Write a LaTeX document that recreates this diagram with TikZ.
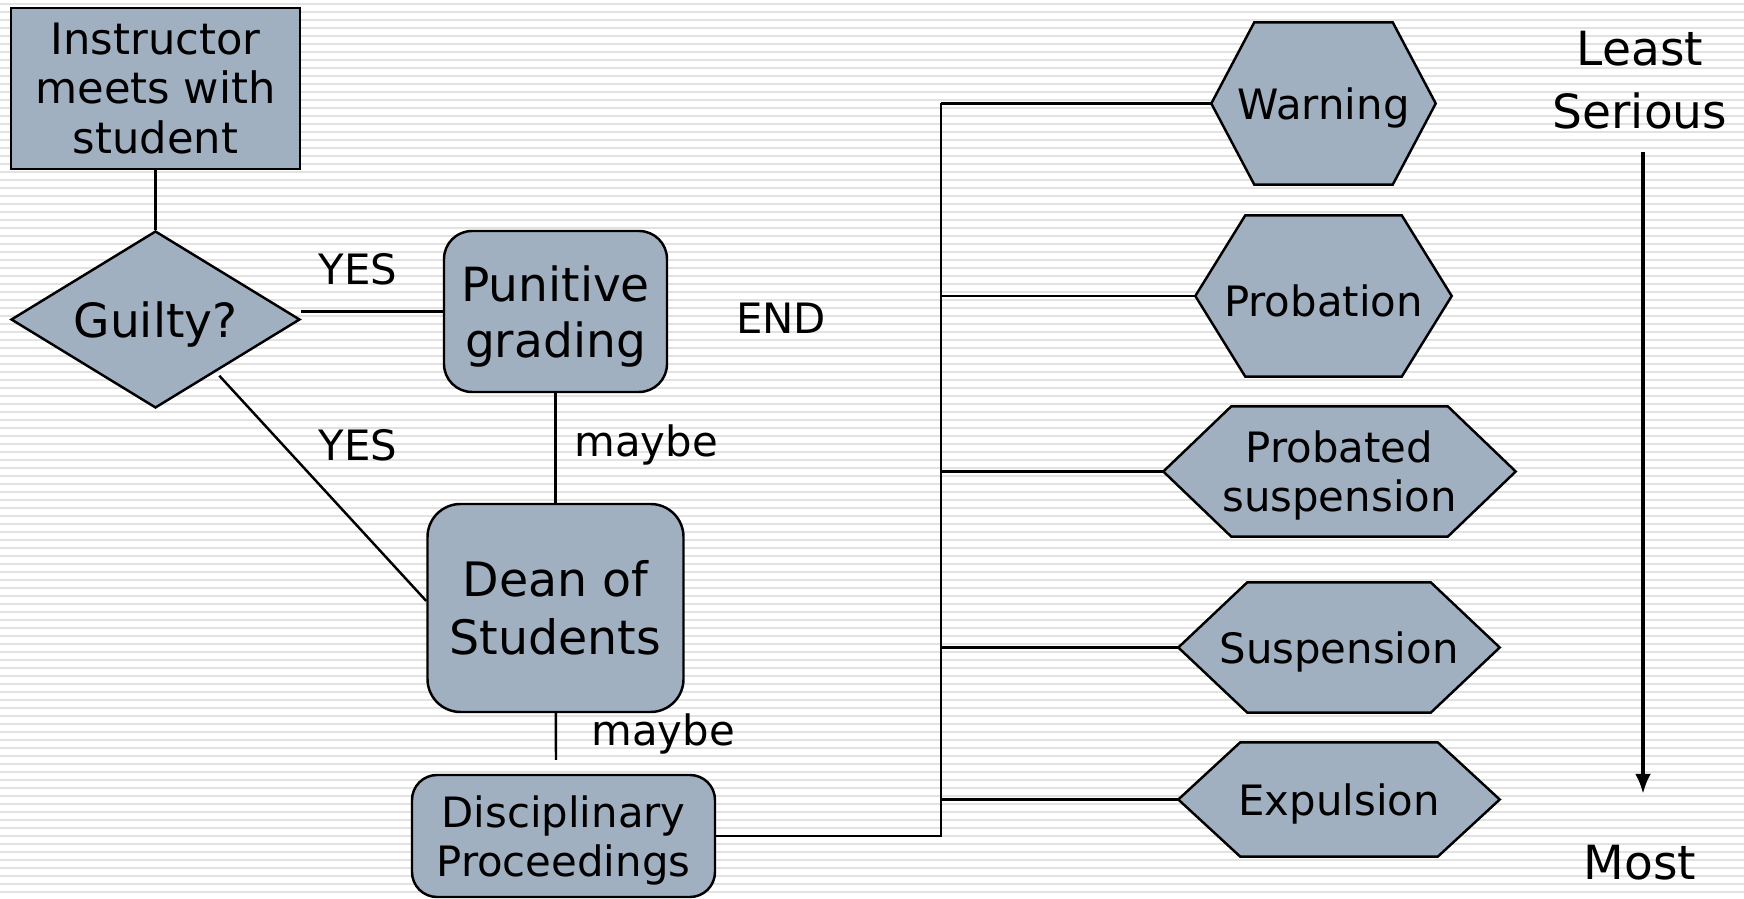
\documentclass[tikz,border=0pt]{standalone}
\usepackage{fontspec}
\setmainfont{DejaVu Sans}
\usepackage{xcolor}
\usetikzlibrary{positioning}
\usetikzlibrary{shapes.geometric}
\usetikzlibrary{arrows.meta}

\definecolor{boxfill}{RGB}{161,176,193}
\definecolor{stripe}{RGB}{226,226,226}

\newcommand{\bigtext}{\fontsize{13.4}{16}\selectfont}
\newcommand{\midtext}{\fontsize{11.9}{14.2}\selectfont}

\pgfdeclarelayer{back}
\pgfdeclarelayer{background}
\pgfsetlayers{back,background,main}

\begin{document}
\begin{tikzpicture}[node distance=1cm, on grid,
      flowbox/.style={draw, line width=0.7pt, fill=boxfill, align=center, inner sep=0pt},
      hexa/.style={inner sep=0pt, align=center, text height=11.6pt, font=\midtext},
      hexline/.style={draw, line width=0.7pt, fill=boxfill},
      conn/.style={line width=0.7pt},
      lbl/.style={inner sep=0pt, font=\midtext}]

      % striped background
      \useasboundingbox (0,0) rectangle (17.44,-8.99);
      \begin{pgfonlayer}{back}
        \fill[white] (0,0) rectangle (17.44,-8.99);
        \foreach \i in {0,...,112}
          \draw[stripe, line width=0.25mm] (0,-0.04-\i*0.08) -- (17.44,-0.04-\i*0.08);
      \end{pgfonlayer}

      \node[flowbox, minimum width=2.89cm, minimum height=1.61cm, font=\fontsize{12.3}{14.2}\selectfont] (instr) at (1.555,-0.885) {Instructor\\meets with\\student};
      \node[flowbox, diamond, aspect=2, minimum width=2.89cm, minimum height=1.77cm, text height=13.2pt, font=\bigtext] (guilty) at (1.555,-3.195) {Guilty?};
      \node[flowbox, rounded corners=0.28cm, minimum width=2.23cm, minimum height=1.61cm, text depth=0pt, font=\fontsize{13.4}{15.9}\selectfont] (grading) at (5.555,-3.115) {Punitive\\grading};
      \node[flowbox, rounded corners=0.33cm, minimum width=2.56cm, minimum height=2.08cm, font=\fontsize{13.5}{16.5}\selectfont] (dean) [below=of grading, yshift=-1.965cm] {Dean of\\Students};
      \node[flowbox, rounded corners=0.25cm, minimum width=3.03cm, minimum height=1.22cm, text depth=-0.5pt, font=\fontsize{11.9}{13.9}\selectfont] (disc) at (5.635,-8.36) {Disciplinary\\Proceedings};
      \coordinate (deanend) at (5.56,-7.60);

      \node[lbl] (yes1) at (3.58,-2.69) {YES};
      \node[lbl] (yes2) at (3.58,-4.45) {YES};
      \node[lbl] (maybe1) at (6.46,-4.45) {maybe};
      \node[lbl] (maybe2) at (6.63,-7.34) {maybe};
      \node[lbl] (end) at (7.81,-3.18) {END};

      \node[hexa, minimum width=2.23cm, minimum height=1.61cm] (warn) at (13.235,-1.035) {Warning};
      \node[hexa, minimum width=2.55cm, minimum height=1.60cm] (prob) [below=of warn, yshift=-0.925cm] {Probation};
      \node[hexa, minimum width=3.51cm, minimum height=1.29cm, text height={}, text depth=0.2pt] (probsusp) [below=of prob, yshift=-0.755cm, xshift=0.16cm] {Probated\\suspension};
      \node[hexa, minimum width=3.20cm, minimum height=1.29cm] (susp) [below=of probsusp, yshift=-0.76cm, xshift=-0.005cm] {Suspension};
      \node[hexa, minimum width=3.20cm, minimum height=1.13cm] (expul) [below=of susp, yshift=-0.52cm] {Expulsion};
      \coordinate (bus) at (9.41,0);

      % hexagon outlines behind the texts
      \begin{pgfonlayer}{background}
        \foreach \n/\d in {warn/0.43, prob/0.50, probsusp/0.68, susp/0.69, expul/0.62}
          \path[hexline] (\n.west) -- ([xshift=\d cm]\n.north west) -- ([xshift=-\d cm]\n.north east)
            -- (\n.east) -- ([xshift=-\d cm]\n.south east) -- ([xshift=\d cm]\n.south west) -- cycle;
      \end{pgfonlayer}

      \node[inner sep=0pt, align=center, font=\fontsize{13.4}{18}\selectfont] (least) at (16.40,-0.805) {Least\\Serious};
      \node[inner sep=0pt, font=\fontsize{13.4}{16}\selectfont] (most) at (16.40,-8.63) {Most};

      \draw[conn] (instr) -- (guilty);
      \draw[conn] (guilty.east |- grading.west) -- (grading.west);
      \draw[conn, shorten <=0.5mm] (guilty.-41) -- ([yshift=0.07cm]dean.west);
      \draw[conn] (grading) -- (dean);
      \draw[conn] (dean) -- (deanend);
      \draw[conn] (disc.east) -| (bus |- warn.west);
      \draw[conn] (bus |- warn.west) -- (warn.west);
      \draw[conn] (bus |- prob.west) -- (prob.west);
      \draw[conn] (bus |- probsusp.west) -- (probsusp.west);
      \draw[conn] (bus |- susp.west) -- (susp.west);
      \draw[conn] (bus |- expul.west) -- (expul.west);
      \draw[line width=1pt, -{Latex[length=2mm, width=1.6mm]}, shorten <=2.2mm, shorten >=5.1mm] ([xshift=0.03cm]least.south) -- ([xshift=0.03cm]most.north);

    \end{tikzpicture}
\end{document}
